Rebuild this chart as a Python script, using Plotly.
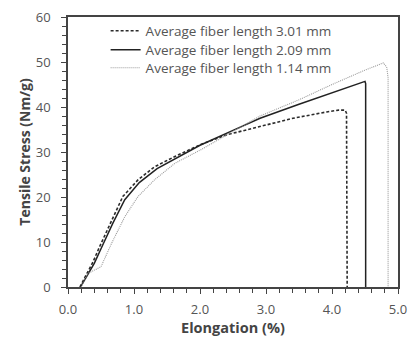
import plotly.graph_objects as go

# Average fiber length 3.01 mm (dashed)
x_301 = [0.18, 0.30, 0.38, 0.48, 0.66, 0.83, 1.06, 1.31, 1.62, 2.0, 2.4, 2.91, 3.41, 3.92, 4.10, 4.20, 4.22, 4.23]
y_301 = [0.0, 3.2, 5.6, 9.0, 14.9, 20.1, 23.8, 26.7, 29.0, 31.6, 33.8, 35.6, 37.5, 38.9, 39.3, 39.3, 38.6, 0.0]

# Average fiber length 2.09 mm (solid)
x_209 = [0.19, 0.31, 0.40, 0.50, 0.68, 0.86, 1.08, 1.35, 1.65, 2.0, 2.5, 2.91, 3.5, 4.0, 4.5, 4.51, 4.51]
y_209 = [0.0, 3.0, 5.3, 8.5, 14.2, 19.4, 23.2, 26.3, 28.7, 31.5, 34.8, 37.5, 40.6, 43.2, 45.7, 45.2, 0.0]

# Average fiber length 1.14 mm (dotted)
x_114 = [0.20, 0.30, 0.50, 0.66, 0.86, 1.06, 1.31, 1.62, 2.0, 2.5, 2.91, 3.5, 4.0, 4.5, 4.78, 4.83, 4.85, 4.85]
y_114 = [0.0, 3.0, 4.5, 9.7, 15.6, 20.1, 23.8, 27.5, 30.4, 34.6, 38.0, 41.6, 45.0, 48.2, 49.8, 48.8, 46.5, 0.0]

series = [
    ("Average fiber length 3.01 mm", x_301, y_301, dict(color="#2b2b2b", width=1.6, dash="3px,2px"), "legend"),
    ("Average fiber length 2.09 mm", x_209, y_209, dict(color="#222222", width=1.5, dash="solid"), "legend2"),
    ("Average fiber length 1.14 mm", x_114, y_114, dict(color="#9a9a9a", width=1.1, dash="1px,1px"), "legend3"),
]

fig = go.Figure()
for name, xs, ys, ln, lg in series:
    fig.add_trace(go.Scatter(x=xs, y=ys, mode="lines", name=name, line=ln, legend=lg))

axis_common = dict(
    showgrid=False, zeroline=False, showline=True, linecolor="#444444", linewidth=1.5,
    mirror=True, ticks="outside", ticklen=5, tickwidth=1.2, tickcolor="#444444",
    tickfont=dict(family="Open Sans", size=13, color="#555555"),
    automargin=False,
)

legend_font = dict(family="Open Sans", size=13.5, color="#555555")
legend_rows = [0.948, 0.878, 0.811]
legend_common = dict(x=0.114, xanchor="left", yanchor="middle", bgcolor="rgba(0,0,0,0)", font=legend_font)

fig.update_layout(
    width=410, height=338,
    margin=dict(l=68, r=12, t=17, b=51),
    paper_bgcolor="white", plot_bgcolor="white",
    font=dict(family="Open Sans", color="#444444"),
    showlegend=True,
    legend=dict(y=legend_rows[0], **legend_common),
    legend2=dict(y=legend_rows[1], **legend_common),
    legend3=dict(y=legend_rows[2], **legend_common),
    xaxis=dict(range=[0, 5], tickmode="linear", tick0=0, dtick=1, tickformat=".1f",
               minor=dict(dtick=0.2, ticks="outside", ticklen=4, tickcolor="#444444"),
               ticklabelstandoff=5,
               title=dict(text="<b>Elongation (%)</b>", font=dict(family="Open Sans", size=14.5, color="#444444"), standoff=3),
               **axis_common),
    yaxis=dict(range=[0, 60], tickmode="linear", tick0=0, dtick=10,
               minor=dict(dtick=2, ticks="outside", ticklen=4, tickcolor="#444444"),
               ticklabelstandoff=8,
               title=dict(text="<b>Tensile Stress (Nm/g)</b>", font=dict(family="Open Sans", size=14, color="#444444"), standoff=2),
               **axis_common),
)

fig.write_html("out.html")
